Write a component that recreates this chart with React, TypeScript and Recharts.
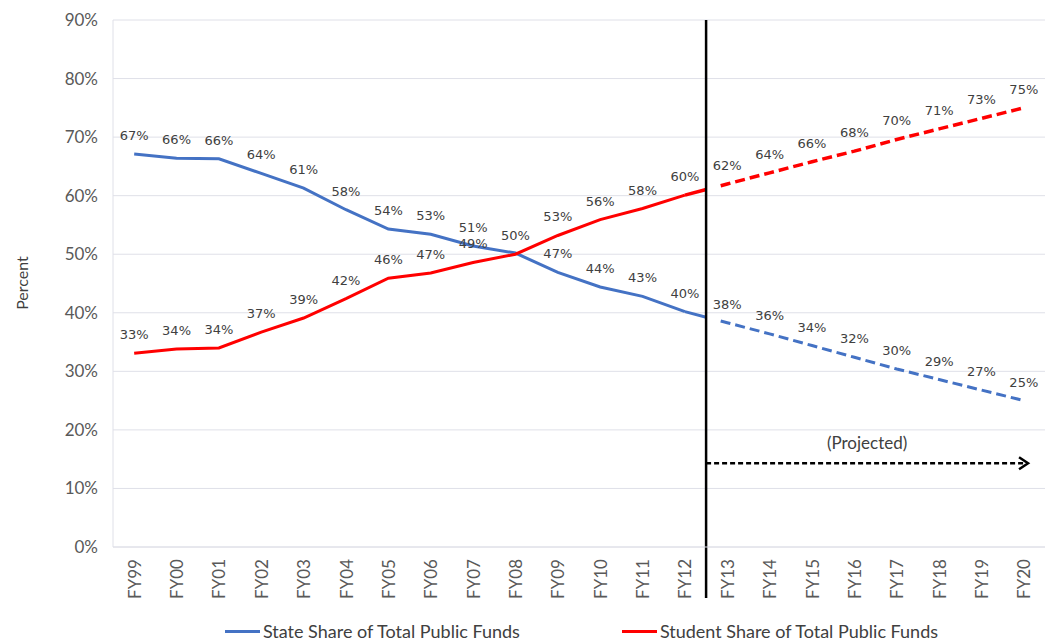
import {
	CartesianGrid,
	LabelList,
	Legend,
	Line,
	LineChart,
	ReferenceLine,
	XAxis,
	YAxis,
} from "recharts";

const years = [
	"FY99", "FY00", "FY01", "FY02", "FY03", "FY04", "FY05", "FY06", "FY07", "FY08", "FY09",
	"FY10", "FY11", "FY12", "FY13", "FY14", "FY15", "FY16", "FY17", "FY18", "FY19", "FY20",
];

// actuals FY99..FY12
const stateActual = [67.1, 66.4, 66.3, 63.8, 61.3, 57.6, 54.3, 53.4, 51.4, 50.2, 46.9, 44.4, 42.8, 40.2];
const studentActual = [33.1, 33.8, 34.0, 36.7, 39.1, 42.4, 45.9, 46.8, 48.6, 50.0, 53.2, 55.9, 57.8, 60.1];

// projections FY13..FY20
const stateProjected = [38.3, 36.4, 34.4, 32.4, 30.4, 28.6, 26.8, 25.0];
const studentProjected = [62.0, 63.9, 65.8, 67.6, 69.6, 71.4, 73.2, 75.0];

const yTicks = [0, 10, 20, 30, 40, 50, 60, 70, 80, 90];

const BLUE = "#4472C4";
const RED = "#FF0000";
const LAST_ACTUAL = stateActual.length - 1;

const data = years.map((label, i) => ({
	i,
	label,
	state: i <= LAST_ACTUAL ? stateActual[i] : undefined,
	student: i <= LAST_ACTUAL ? studentActual[i] : undefined,
	stateProj: i === LAST_ACTUAL ? stateActual[i] : i > LAST_ACTUAL ? stateProjected[i - LAST_ACTUAL - 1] : undefined,
	studentProj: i === LAST_ACTUAL ? studentActual[i] : i > LAST_ACTUAL ? studentProjected[i - LAST_ACTUAL - 1] : undefined,
}));

// where both series round to the same value only one label is shown
const sameLabel = stateActual
	.map((v, i) => (Math.round(v) === Math.round(studentActual[i]) ? i : -1))
	.filter((i) => i >= 0);

// solid up to the divider, small gap, then dashes
const projDash = "22 15" + " 10 5".repeat(40);

const axisFont = "Lato, 'Open Sans', sans-serif";
const labelFont = "'DejaVu Sans', Verdana, sans-serif";

const makeLabel = (skip: number[] = []) => (props: any) => {
	const { x, y, value, index } = props;
	if (value == null || skip.includes(index)) return null;
	return (
		<text x={x} y={y - 14} textAnchor="middle" fontSize={13} fill="#404040" fontFamily={labelFont}>
			{Math.round(value)}%
		</text>
	);
};

const XTick = (props: any) => {
	const { x, y, payload } = props;
	return (
		<text
			x={x}
			y={y}
			transform={`rotate(-90 ${x} ${y})`}
			textAnchor="end"
			dominantBaseline="central"
			fontSize={17}
			fill="#595959"
			fontFamily={axisFont}
		>
			{years[payload.value]}
		</text>
	);
};

const ProjectedArrow = (props: any) => {
	const { x1, y1, x2, y2 } = props;
	return (
		<g>
			<line x1={x1} y1={y1} x2={x2 - 2} y2={y2} stroke="#000" strokeWidth={2.5} strokeDasharray="5 3" />
			<polyline
				points={`${x2 - 9},${y2 - 6} ${x2},${y2} ${x2 - 9},${y2 + 6}`}
				fill="none"
				stroke="#000"
				strokeWidth={2.5}
			/>
			<text
				x={(x1 + x2) / 2}
				y={y1 - 14}
				textAnchor="middle"
				fontSize={17}
				fill="#404040"
				fontFamily={axisFont}
			>
				(Projected)
			</text>
		</g>
	);
};

const legendItems = [
	{ name: "State Share of Total Public Funds", color: BLUE },
	{ name: "Student Share of Total Public Funds", color: RED },
];

const renderLegend = () => (
	<div
		style={{
			display: "flex",
			justifyContent: "center",
			gap: 102,
			paddingLeft: 116,
			height: 20,
			lineHeight: "20px",
			fontFamily: axisFont,
			fontSize: 18,
			color: "#404040",
		}}
	>
		{legendItems.map((it) => (
			<div key={it.name} style={{ display: "flex", alignItems: "center" }}>
				<span style={{ display: "inline-block", width: 35, height: 3, background: it.color, marginRight: 3 }} />
				<span>{it.name}</span>
			</div>
		))}
	</div>
);

export default function App() {
	return (
		<div style={{ position: "absolute", left: 0, top: 0, width: 1047, height: 641, background: "#fff" }}>
			<div
				style={{
					position: "absolute",
					left: 21,
					top: 283,
					transform: "translate(-50%, -50%) rotate(-90deg)",
					fontFamily: axisFont,
					fontSize: 16,
					color: "#404040",
					whiteSpace: "nowrap",
				}}
			>
				Percent
			</div>
			<LineChart width={1047} height={641} data={data} margin={{ top: 20, right: 2, left: 13, bottom: 0 }}>
				<CartesianGrid horizontal vertical={false} stroke="#dfe0e8" />
				<XAxis
					dataKey="i"
					type="number"
					domain={[-0.5, years.length - 0.5]}
					ticks={years.map((_, i) => i)}
					interval={0}
					height={74}
					tickSize={0}
					tickMargin={12}
					tick={<XTick />}
					axisLine={{ stroke: "#dfe0e8" }}
				/>
				<YAxis
					type="number"
					domain={[0, 90]}
					ticks={yTicks}
					width={100}
					tickSize={0}
					tickMargin={15}
					tickFormatter={(v) => `${v}%`}
					tick={{ fontSize: 17, fill: "#595959", fontFamily: axisFont }}
					axisLine={{ stroke: "#dfe0e8" }}
				/>
				<Legend verticalAlign="bottom" content={renderLegend} wrapperStyle={{ left: 0, width: 1047, height: 20 }} />
				<Line dataKey="state" stroke={BLUE} strokeWidth={3} dot={false} isAnimationActive={false}>
					<LabelList dataKey="state" content={makeLabel(sameLabel)} />
				</Line>
				<Line dataKey="student" stroke={RED} strokeWidth={3} dot={false} isAnimationActive={false}>
					<LabelList dataKey="student" content={makeLabel()} />
				</Line>
				<Line
					dataKey="stateProj"
					stroke={BLUE}
					strokeWidth={3}
					strokeDasharray={projDash}
					dot={false}
					isAnimationActive={false}
					legendType="none"
				>
					<LabelList dataKey="stateProj" content={makeLabel([LAST_ACTUAL])} />
				</Line>
				<Line
					dataKey="studentProj"
					stroke={RED}
					strokeWidth={3.5}
					strokeDasharray={projDash}
					dot={false}
					isAnimationActive={false}
					legendType="none"
				>
					<LabelList dataKey="studentProj" content={makeLabel([LAST_ACTUAL])} />
				</Line>
				<ReferenceLine
					segment={[{ x: LAST_ACTUAL + 0.5, y: 90 }, { x: LAST_ACTUAL + 0.5, y: -8.7 }]}
					ifOverflow="visible"
					stroke="#000"
					strokeWidth={2.5}
				/>
				<ReferenceLine
					segment={[{ x: LAST_ACTUAL + 0.5, y: 14.3 }, { x: 21.1, y: 14.3 }]}
					ifOverflow="visible"
					shape={<ProjectedArrow />}
				/>
			</LineChart>
		</div>
	);
}
